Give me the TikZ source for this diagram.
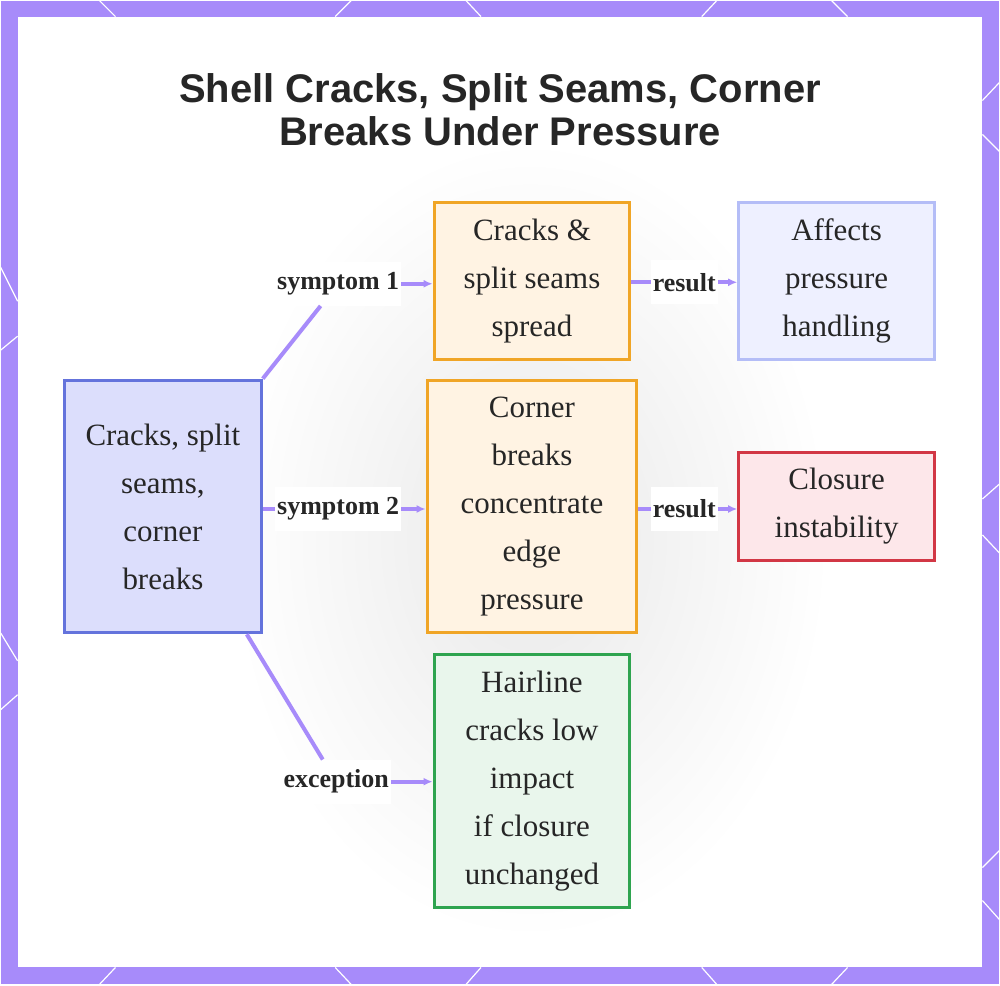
\documentclass[tikz,border=0pt]{standalone}
\usepackage{fontspec}
\setmainfont{Liberation Serif}
\newfontfamily\titelfont{Liberation Sans}
\usepackage{tikz}
\usetikzlibrary{arrows.meta}
\definecolor{lila}{HTML}{A78BFA}
\definecolor{textgrau}{HTML}{262626}
\definecolor{blaufill}{HTML}{DCDEFC}
\definecolor{blaurand}{HTML}{6473DC}
\definecolor{orangefill}{HTML}{FFF3E3}
\definecolor{orangerand}{HTML}{F0A526}
\definecolor{hblaufill}{HTML}{EEF0FF}
\definecolor{hblaurand}{HTML}{B4BDF7}
\definecolor{rotfill}{HTML}{FDE7EA}
\definecolor{rotrand}{HTML}{D23745}
\definecolor{gruenfill}{HTML}{E9F6EC}
\definecolor{gruenrand}{HTML}{2EA44F}

\begin{document}
\begin{tikzpicture}[x=1pt, y=-1pt,
		>={Latex[length=9pt,width=8pt]},   %Voreinstellung für Pfeilspitzen
		box/.style={draw, line width=3pt, inner sep=0pt, align=center, text=textgrau,
			font=\fontsize{31}{48}\selectfont, minimum width=196pt},
		lab/.style={fill=white, inner xsep=2pt, inner ysep=0pt, minimum height=44pt, text=textgrau,
			font=\bfseries\fontsize{26}{30}\selectfont},
		kante/.style={draw=lila, line width=4pt}]
	%Rahmen und Hintergrund
	\fill[lila] (0,0) rectangle (1000,985);
	\fill[white] (17,16) rectangle (983,968);
	\shade[inner color=gray!18, outer color=white] (530,540) ellipse (300 and 400);
	\begin{scope}[white, line width=1.2pt]
		\draw (99,0) -- (115,16);   \draw (351,0) -- (335,16);  \draw (466,0) -- (481,16);
		\draw (717,0) -- (702,16);  \draw (832,0) -- (848,16);
		\draw (99,985) -- (115,968); \draw (351,985) -- (335,968); \draw (466,985) -- (481,968);
		\draw (717,985) -- (702,968); \draw (832,985) -- (848,968);
		\draw (0,267) -- (17,301);  \draw (0,350) -- (17,336);
		\draw (0,633) -- (17,661);  \draw (0,710) -- (17,695);
		\draw (1000,82) -- (983,100);  \draw (1000,151) -- (983,134);
		\draw (1000,484) -- (983,499); \draw (1000,553) -- (983,535);
		\draw (1000,851) -- (983,868); \draw (1000,920) -- (983,901);
	\end{scope}
	%Titel
	\node[text=textgrau, align=center, font=\titelfont\bfseries\fontsize{40}{43}\selectfont] (titel) at (500,109)
		{Shell Cracks, Split Seams, Corner\\Breaks Under Pressure};
	%Kaesten
	\node[box, fill=blaufill, draw=blaurand, minimum width=197pt, minimum height=253pt] (risse) at (162.5,506.5)
		{Cracks, split\\seams,\\corner\\breaks};
	\node[box, fill=orangefill, draw=orangerand, minimum height=157pt] (spalt) at (532,280.5)
		{Cracks \&\\split seams\\spread};
	\node[box, fill=orangefill, draw=orangerand, minimum width=210pt, minimum height=253pt] (ecke) at (532,506.5)
		{Corner\\breaks\\concentrate\\edge\\pressure};
	\node[box, fill=gruenfill, draw=gruenrand, minimum height=253pt] (haar) at (532,781.5)
		{Hairline\\cracks low\\impact\\if closure\\unchanged};
	\node[box, fill=hblaufill, draw=hblaurand, minimum height=157pt] (druck) at (837,280.5)
		{Affects\\pressure\\handling};
	\node[box, fill=rotfill, draw=rotrand, minimum height=109pt] (instab) at (837,506.5)
		{Closure\\instability};
	%Beschriftung der Kanten
	\node[lab] (s1) at (338,283.5) {symptom 1};
	\node[lab] (s2) at (338,509) {symptom 2};
	\node[lab] (ausn) at (336,782) {exception};
	\node[lab] (r1) at (684.5,282) {result};
	\node[lab] (r2) at (684.5,509) {result};
	%Kanten
	\draw[kante] (risse.north east) -- (s1);
	\draw[kante,->] (s1.east) -- (s1.east -| spalt.west);
	\draw[kante] (risse.east |- s2) -- (s2.west);
	\draw[kante,->] (s2.east) -- (s2.east -| ecke.west);
	\draw[kante] ([xshift=-16pt]risse.south east) -- (ausn);
	\draw[kante,->] (ausn.east) -- (ausn.east -| haar.west);
	\draw[kante] (spalt.east |- r1) -- (r1.west);
	\draw[kante,->] (r1.east) -- (r1.east -| druck.west);
	\draw[kante] (ecke.east |- r2) -- (r2.west);
	\draw[kante,->] (r2.east) -- (r2.east -| instab.west);
\end{tikzpicture}
\end{document}
